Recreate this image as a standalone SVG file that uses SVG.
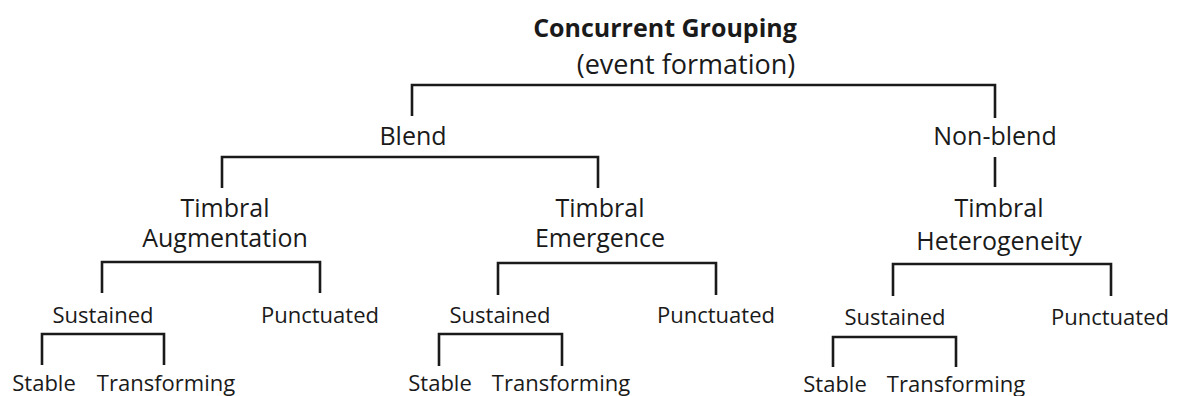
<svg xmlns="http://www.w3.org/2000/svg" width="1181" height="396" viewBox="0 0 1181 396">
<style>
text{font-family:"Open Sans","Liberation Sans",sans-serif;fill:#1a1a1a;text-anchor:middle}
.t{font-weight:bold;font-size:25px}
.s{font-size:27px}
.m{font-size:25px}
.l{font-size:22px}
.c path{fill:none;stroke:#1a1a1a;stroke-width:2.6}
</style>
<rect width="1181" height="396" fill="#fff"/>
<g class="c" id="connectors">
<path d="M412 116V85H995V118"/>
<path d="M222 188V157H598V188"/>
<path d="M995 157V187"/>
<path d="M102 293V262H320V293"/>
<path d="M498 295V263H716V295"/>
<path d="M893 296V264H1111V296"/>
<path d="M42 365V334H164V365"/>
<path d="M439 366V334H562V366"/>
<path d="M833 367V337H956V367"/>
</g>
<g id="root"><text class="t" x="665" y="37">Concurrent Grouping</text><text class="s" x="686" y="74">(event formation)</text></g>
<g id="blend"><text class="m" x="413" y="145">Blend</text></g>
<g id="nonblend"><text class="m" x="995" y="145">Non-blend</text></g>
<g id="aug"><text class="m" x="225" y="217">Timbral</text><text class="m" x="225" y="247">Augmentation</text></g>
<g id="emer"><text class="m" x="600" y="217">Timbral</text><text class="m" x="600" y="247">Emergence</text></g>
<g id="het"><text class="m" x="999" y="217">Timbral</text><text class="m" x="999" y="250">Heterogeneity</text></g>
<g id="sus1"><text class="l" x="103" y="323">Sustained</text></g>
<g id="pun1"><text class="l" x="320" y="323">Punctuated</text></g>
<g id="sus2"><text class="l" x="500" y="323">Sustained</text></g>
<g id="pun2"><text class="l" x="716" y="323">Punctuated</text></g>
<g id="sus3"><text class="l" x="895" y="325">Sustained</text></g>
<g id="pun3"><text class="l" x="1110" y="325">Punctuated</text></g>
<g id="sta1"><text class="l" x="44" y="391">Stable</text></g>
<g id="tra1"><text class="l" x="166" y="391">Transforming</text></g>
<g id="sta2"><text class="l" x="440" y="391">Stable</text></g>
<g id="tra2"><text class="l" x="561" y="391">Transforming</text></g>
<g id="sta3"><text class="l" x="835" y="392">Stable</text></g>
<g id="tra3"><text class="l" x="956" y="392">Transforming</text></g>
</svg>
